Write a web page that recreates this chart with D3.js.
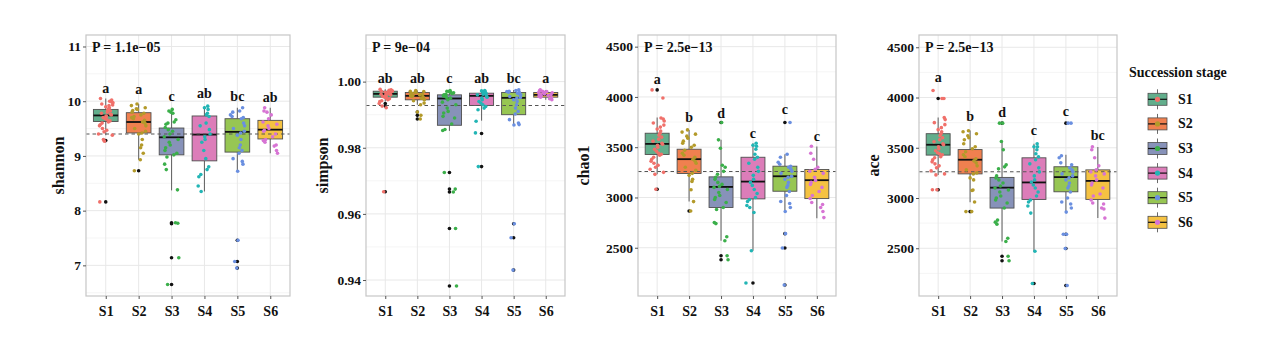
<!DOCTYPE html>
<html><head><meta charset="utf-8">
<script src="https://cdn.jsdelivr.net/npm/d3@7"></script>
<style>
body{margin:0;background:#fff}
svg{display:block}
svg text{font-family:"Liberation Serif","Tinos","Times New Roman","DejaVu Serif",serif !important;font-weight:bold;fill:#111}
</style>
</head><body>
<svg id="c" width="1269" height="356"></svg>
<script>
// ---------------- DATA ----------------
const categories = ["S1","S2","S3","S4","S5","S6"];
const metrics = ["shannon","simpson","chao1","ace"];
const pLabels = ["P = 1.1e\u221205","P = 9e\u221204","P = 2.5e\u221213","P = 2.5e\u221213"];

// tick labels per panel
const shannonTicks = [7,8,9,10,11];
const simpsonTicks = [0.94,0.96,0.98,1.00];
const chao1Ticks = [2500,3000,3500,4000,4500];
const aceTicks = [2500,3000,3500,4000,4500];

// box stats: [lower whisker, q1, median, q3, upper whisker]
const shannonBox = [[9.38,9.63,9.74,9.85,10.05],[8.93,9.42,9.62,9.79,9.95],[8.37,9.02,9.34,9.51,9.85],[8.35,8.91,9.39,9.73,9.91],[8.71,9.07,9.44,9.68,9.88],[9.05,9.31,9.48,9.65,9.88]];
const shannonOut = [[9.28,8.16],[8.73],[7.78,7.76,7.14,6.65],[],[7.46,7.07,6.95],[]];
const shannonPts = [
 [10.05,10.02,10.0,9.98,9.97,9.95,9.93,9.92,9.9,9.88,9.86,9.84,9.82,9.8,9.78,9.76,9.75,9.73,9.72,9.7,9.68,9.66,9.64,9.62,9.6,9.57,9.55,9.5,9.47,9.44,9.4,9.38,9.3,9.27,8.16],
 [9.95,9.92,9.88,9.86,9.85,9.83,9.8,9.78,9.75,9.72,9.7,9.68,9.65,9.62,9.6,9.55,9.5,9.45,9.42,9.4,9.3,9.2,9.15,9.05,8.93,8.73],
 [9.85,9.82,9.8,9.78,9.66,9.62,9.6,9.58,9.52,9.48,9.45,9.4,9.35,9.3,9.25,9.2,9.15,9.1,9.05,9.02,8.98,8.85,8.75,8.38,7.78,7.77,7.14,6.65],
 [9.91,9.88,9.85,9.78,9.75,9.72,9.6,9.55,9.48,9.4,9.35,9.3,9.25,9.1,8.95,8.8,8.75,8.66,8.62,8.45,8.35],
 [9.88,9.82,9.8,9.75,9.72,9.7,9.68,9.6,9.55,9.5,9.45,9.42,9.38,9.3,9.2,9.15,9.1,9.05,8.95,8.9,8.85,8.72,7.46,7.07,6.95],
 [9.88,9.82,9.8,9.75,9.68,9.62,9.58,9.55,9.5,9.47,9.45,9.4,9.35,9.3,9.28,9.25,9.2,9.18,9.1,9.05]
];
const shannonLetters = ["a","a","c","ab","bc","ab"];
const shannonLetterPos = [10.24,10.21,10.09,10.15,10.09,10.06];
const shannonMean = 9.40;

const simpsonBox = [[0.9940,0.9953,0.9963,0.9971,0.9977],[0.9930,0.9945,0.9957,0.9967,0.9973],[0.9851,0.9868,0.9949,0.9960,0.9973],[0.9882,0.9928,0.9957,0.9965,0.9973],[0.9869,0.9900,0.9951,0.9967,0.9975],[0.9945,0.9953,0.9960,0.9967,0.9975]];
const simpsonOut = [[0.9934,0.9926,0.9667],[0.9908,0.9898,0.9887],[0.9725,0.9675,0.9666,0.9556,0.9382],[0.9843,0.9743],[0.9570,0.9528,0.9430],[]];
const simpsonPts = [
 [0.9977,0.9975,0.9974,0.9973,0.9972,0.9971,0.997,0.9969,0.9968,0.9967,0.9966,0.9965,0.9964,0.9963,0.9962,0.9961,0.996,0.9958,0.9956,0.9955,0.9953,0.995,0.9948,0.9945,0.9942,0.994,0.9934,0.9926,0.9921,0.9667],
 [0.9973,0.9971,0.997,0.9968,0.9967,0.9965,0.9963,0.9961,0.996,0.9958,0.9957,0.9955,0.9953,0.995,0.9948,0.9945,0.9942,0.9935,0.993,0.9908,0.9898,0.9887],
 [0.9973,0.9971,0.997,0.9968,0.9966,0.9964,0.9962,0.996,0.9957,0.9953,0.995,0.9945,0.9938,0.993,0.992,0.991,0.9905,0.9895,0.989,0.9872,0.9855,0.9852,0.9725,0.9675,0.9666,0.9556,0.9382],
 [0.9973,0.9972,0.997,0.9969,0.9967,0.9965,0.9962,0.996,0.9957,0.9953,0.995,0.9945,0.994,0.9935,0.993,0.9925,0.992,0.9915,0.988,0.9845,0.9743],
 [0.9975,0.9973,0.9971,0.997,0.9968,0.9967,0.9965,0.9962,0.996,0.9955,0.9952,0.995,0.9945,0.994,0.993,0.992,0.991,0.9902,0.9885,0.9875,0.987,0.9869,0.957,0.9528,0.943],
 [0.9975,0.9973,0.9971,0.997,0.9968,0.9967,0.9966,0.9965,0.9963,0.9962,0.9961,0.996,0.9958,0.9957,0.9955,0.9953,0.9951,0.9948,0.9945]
];
const simpsonLetters = ["ab","ab","c","ab","bc","a"];
const simpsonLetterPos = [1.001,1.001,1.001,1.001,1.001,1.001];
const simpsonMean = 0.9928;

const chao1Box = [[3230,3427,3533,3639,3795],[2959,3238,3381,3480,3672],[2570,2900,3105,3205,3573],[2470,2986,3158,3400,3540],[2860,3062,3211,3311,3430],[2793,2989,3172,3278,3507]];
const chao1Out = [[4070,3082],[2865],[3745,2420,2380],[2150],[3745,2640,2497,2130],[]];
const chao1Pts = [
 [4070,3990,3790,3780,3760,3740,3720,3700,3680,3660,3640,3620,3600,3580,3560,3540,3530,3520,3500,3480,3460,3440,3430,3420,3400,3380,3360,3340,3320,3300,3280,3250,3230,3082],
 [3672,3650,3630,3610,3590,3560,3540,3520,3500,3470,3440,3420,3400,3380,3360,3340,3300,3270,3240,3220,3180,3160,3077,2959,2865],
 [3745,3573,3490,3320,3300,3260,3230,3200,3180,3150,3130,3110,3100,3080,3050,3020,3000,2980,2950,2900,2880,2750,2740,2610,2570,2420,2380],
 [3540,3520,3510,3480,3430,3400,3380,3340,3300,3260,3220,3180,3150,3120,3080,3040,3000,2980,2960,2920,2900,2850,2470,2150],
 [3745,3430,3400,3350,3330,3310,3300,3280,3260,3240,3210,3200,3180,3150,3120,3100,3060,3020,2960,2940,2900,2860,2640,2497,2130],
 [3510,3440,3380,3300,3280,3260,3240,3200,3170,3150,3130,3100,3060,3020,2990,2950,2930,2900,2860,2800]
];
const chao1Letters = ["a","b","d","c","c","c"];
const chao1LetterPos = [4177,3795,3838,3639,3878,3606];
const chao1Mean = 3258;

const aceBox = [[3230,3427,3530,3640,3800],[2959,3240,3381,3482,3672],[2568,2900,3103,3205,3563],[2470,2986,3155,3400,3540],[2860,3062,3208,3311,3430],[2800,2986,3170,3280,3507]];
const aceOut = [[3990,3082],[2865],[3745,2420,2375],[2150],[3745,2640,2497,2130],[]];
const acePts = [
 [4070,3990,3990,3800,3780,3750,3730,3700,3680,3660,3640,3620,3600,3580,3560,3540,3530,3510,3490,3470,3450,3440,3430,3410,3400,3380,3360,3340,3320,3300,3270,3240,3230,3082,3082],
 [3670,3660,3640,3620,3600,3580,3540,3510,3490,3460,3430,3410,3390,3370,3350,3320,3280,3250,3240,3200,3180,3080,3075,2960,2865,2865],
 [3745,3745,3563,3480,3330,3310,3290,3220,3200,3180,3150,3120,3100,3080,3060,3020,3000,2980,2950,2900,2780,2760,2740,2600,2568,2420,2375],
 [3540,3510,3510,3480,3440,3410,3380,3340,3300,3260,3220,3180,3160,3130,3100,3060,3020,2980,2960,2920,2850,2470,2150],
 [3745,3745,3420,3400,3350,3330,3300,3280,3260,3240,3220,3200,3180,3150,3120,3100,3060,3000,2960,2940,2900,2860,2640,2640,2497,2130],
 [3510,3480,3400,3320,3280,3260,3240,3220,3180,3150,3130,3100,3040,3020,2980,2950,2940,2900,2890,2800]
];
const aceLetters = ["a","b","d","c","c","bc"];
const aceLetterPos = [4198,3814,3854,3675,3857,3622];
const aceMean = 3262;

// ---------------- STYLE / LAYOUT ----------------
const FONT = '"Liberation Serif","Tinos","Times New Roman","DejaVu Serif",serif';
const boxFill = ["#62AE8C","#F0804F","#8792B9","#DC7DB9","#97C653","#F5C242"];
const ptCol = ["#F0706A","#B39A2A","#3BAF4A","#22B5B5","#6A8FE0","#D774D4"];
const WHISK = "#6a6a6a";
const JITTER = [-0.16,0.08,0.21,-0.05,0.14,-0.2,0.02,0.18,-0.11,0.1,-0.22,0.05,0.16,-0.08,0.12,-0.17,0.0,0.2,-0.13,0.07,-0.02,0.19,-0.19,0.11,-0.07,0.15,-0.14,0.04,0.22,-0.1,0.09,-0.04,0.17,-0.21,0.13,-0.12,0.03,0.06,-0.18,0.01];
const TOP = 35, BOT = 296;

const panels = [
 {name:metrics[0], p:pLabels[0], left:86, right:290, dom:[6.44,11.21], ticks:shannonTicks, fmt:d3.format("d"), box:shannonBox, out:shannonOut, pts:shannonPts, let:shannonLetters, letPos:shannonLetterPos, mean:shannonMean, titleX:58},
 {name:metrics[1], p:pLabels[1], left:366, right:565, dom:[0.93517,1.0141], ticks:simpsonTicks, fmt:d3.format(".2f"), box:simpsonBox, out:simpsonOut, pts:simpsonPts, let:simpsonLetters, letPos:simpsonLetterPos, mean:simpsonMean, titleX:322},
 {name:metrics[2], p:pLabels[2], left:638, right:836, dom:[2020,4616], ticks:chao1Ticks, fmt:d3.format("d"), box:chao1Box, out:chao1Out, pts:chao1Pts, let:chao1Letters, letPos:chao1LetterPos, mean:chao1Mean, titleX:583},
 {name:metrics[3], p:pLabels[3], left:919, right:1117, dom:[2025,4622], ticks:aceTicks, fmt:d3.format("d"), box:aceBox, out:aceOut, pts:acePts, let:aceLetters, letPos:aceLetterPos, mean:aceMean, titleX:873}
];

const svg = d3.select("#c");

panels.forEach(P => {
  const g = svg.append("g");
  const x = d3.scalePoint().domain(categories).range([P.left, P.right]).padding(0.6);
  const step = x.step();
  const y = d3.scaleLinear().domain(P.dom).range([BOT, TOP]);

  // minor grid
  const t0 = P.ticks[0], dt = P.ticks[1]-P.ticks[0];
  const minors = [];
  for (let k=-2;k<P.ticks.length+2;k++){ const v=t0+(k+0.5)*dt; if(v>P.dom[0]&&v<P.dom[1]) minors.push(v); }
  g.selectAll(".mn").data(minors).enter().append("line")
   .attr("x1",P.left).attr("x2",P.right).attr("y1",d=>y(d)).attr("y2",d=>y(d))
   .attr("stroke","#f3f3f3").attr("stroke-width",0.8);
  g.selectAll(".mj").data(P.ticks).enter().append("line")
   .attr("x1",P.left).attr("x2",P.right).attr("y1",d=>y(d)).attr("y2",d=>y(d))
   .attr("stroke","#e8e8e8").attr("stroke-width",1);
  g.selectAll(".vx").data(categories).enter().append("line")
   .attr("x1",d=>x(d)).attr("x2",d=>x(d)).attr("y1",TOP).attr("y2",BOT)
   .attr("stroke","#e8e8e8").attr("stroke-width",1);

  // boxes
  const bw = step*0.75;
  categories.forEach((c,i)=>{
    const b = P.box[i], cx = x(c);
    g.append("line").attr("x1",cx).attr("x2",cx).attr("y1",y(b[4])).attr("y2",y(b[3])).attr("stroke",WHISK).attr("stroke-width",1.1);
    g.append("line").attr("x1",cx).attr("x2",cx).attr("y1",y(b[1])).attr("y2",y(b[0])).attr("stroke",WHISK).attr("stroke-width",1.1);
    g.append("rect").attr("x",cx-bw/2).attr("width",bw).attr("y",y(b[3])).attr("height",y(b[1])-y(b[3]))
     .attr("fill",boxFill[i]).attr("stroke","#4f4f4f").attr("stroke-width",0.9);
    g.append("line").attr("x1",cx-bw/2).attr("x2",cx+bw/2).attr("y1",y(b[2])).attr("y2",y(b[2])).attr("stroke","#111").attr("stroke-width",1.8);
    g.selectAll(null).data(P.out[i]).enter().append("circle")
     .attr("cx",cx).attr("cy",d=>y(d)).attr("r",1.8).attr("fill","#111");
  });

  // mean dashed line
  g.append("line").attr("x1",P.left).attr("x2",P.right).attr("y1",y(P.mean)).attr("y2",y(P.mean))
   .attr("stroke","#555").attr("stroke-width",1.1).attr("stroke-dasharray","3.5,3");

  // jittered points
  categories.forEach((c,i)=>{
    const cx = x(c);
    g.selectAll(null).data(P.pts[i]).enter().append("circle")
     .attr("cx",(d,j)=>cx + JITTER[(j*7+i*3)%JITTER.length]*step)
     .attr("cy",d=>y(d)).attr("r",1.8).attr("fill",ptCol[i]);
  });

  // border
  g.append("rect").attr("x",P.left).attr("y",TOP).attr("width",P.right-P.left).attr("height",BOT-TOP)
   .attr("fill","none").attr("stroke","#c6c6c6").attr("stroke-width",1.2);

  // letters
  categories.forEach((c,i)=>{
    g.append("text").attr("x",x(c)).attr("y",y(P.letPos[i])).attr("text-anchor","middle")
     .attr("dominant-baseline","central").attr("font-size",14).text(P.let[i]);
  });

  // P label (top-left of panel)
  g.append("text").attr("x",P.left+6).attr("y",TOP+12).attr("dominant-baseline","central")
   .attr("font-size",14).text(P.p);

  // axes
  const ay = g.append("g").attr("transform",`translate(${P.left},0)`)
    .call(d3.axisLeft(y).tickValues(P.ticks).tickFormat(P.fmt).tickSize(3).tickPadding(2));
  ay.attr("font-family",FONT);
  ay.select(".domain").remove();
  ay.selectAll("line").attr("stroke","#555");
  ay.selectAll("text").attr("font-size",13.5).attr("fill","#111");
  const ax = g.append("g").attr("transform",`translate(0,${BOT})`)
    .call(d3.axisBottom(x).tickSize(3).tickPadding(7));
  ax.attr("font-family",FONT);
  ax.select(".domain").remove();
  ax.selectAll("line").attr("stroke","#555");
  ax.selectAll("text").attr("font-size",14).attr("fill","#111");

  // y title
  g.append("text").attr("transform",`translate(${P.titleX},${(TOP+BOT)/2}) rotate(-90)`)
   .attr("text-anchor","middle").attr("dominant-baseline","central").attr("font-size",16).text(P.name);
});

// legend
const lg = svg.append("g");
lg.append("text").attr("x",1129).attr("y",72).attr("dominant-baseline","central").attr("font-size",14).text("Succession stage");
const ly = d3.scalePoint().domain(categories).range([99.3,222.3]);
categories.forEach((c,i)=>{
  const cy = ly(c), kx = 1148, kw = 19;
  lg.append("line").attr("x1",kx+kw/2).attr("x2",kx+kw/2).attr("y1",cy-10).attr("y2",cy+10).attr("stroke",WHISK);
  lg.append("rect").attr("x",kx).attr("y",cy-6).attr("width",kw).attr("height",12).attr("fill",boxFill[i]).attr("stroke","#4f4f4f").attr("stroke-width",0.8);
  lg.append("line").attr("x1",kx).attr("x2",kx+kw).attr("y1",cy).attr("y2",cy).attr("stroke","#111").attr("stroke-width",1.2);
  lg.append("circle").attr("cx",kx+kw/2).attr("cy",cy).attr("r",2.6).attr("fill",ptCol[i]);
  lg.append("text").attr("x",1178).attr("y",cy).attr("dominant-baseline","central").attr("font-size",14).text(c);
});
</script>
</body></html>
